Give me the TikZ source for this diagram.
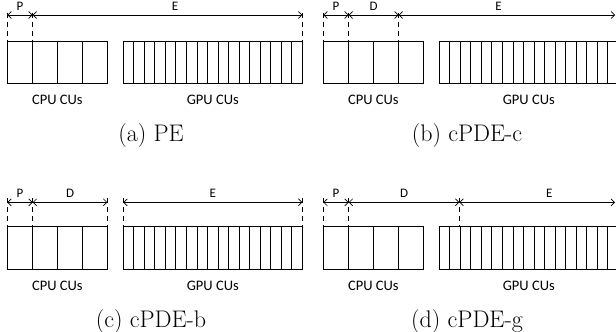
\documentclass[tikz,border=0pt]{standalone}
\usepackage{fontspec}
\usepackage{tikz}
\usetikzlibrary{arrows.meta}
\newfontfamily\cufont{Carlito}

\tikzset{
  cell/.style={draw=black, line width=1pt},
  dim/.style={{Straight Barb[length=3.5pt,width=7pt]}-{Straight Barb[length=3.5pt,width=7pt]}, line width=0.7pt},
  guide/.style={line width=1.2pt, dash pattern=on 5pt off 4pt},
  part/.style={font=\cufont\fontsize{13}{15}\selectfont, inner sep=0pt, above=4.5pt},
  unit/.style={font=\cufont\fontsize{14.5}{17}\selectfont, inner sep=0pt},
  capt/.style={font=\fontsize{24}{28}\selectfont, inner sep=0pt, anchor=base}
}

\begin{document}
\begin{tikzpicture}[x=1pt,y=-1pt]
\useasboundingbox (0,0) rectangle (616,332);
\clip (0,0) rectangle (616,332);

% (a) PE
\draw[cell] (7.3,41.7) rectangle (107.3,83.3);
\foreach \x in {32.7,57.7,82.3} \draw[cell] (\x,41.7) -- (\x,83.3);
\draw[cell] (123.3,41.7) rectangle (302.3,83.3);
\foreach \i in {1,...,16} \draw[cell] ({123.3+\i*10.53},41.7) -- ++(0,41.6);
\coordinate (a0) at (7.3,15);
\coordinate (a1) at (32.7,15);
\coordinate (a2) at (302.3,15);
\foreach \c in {a0,a1,a2} \draw[guide] (\c) ++(0,-2.3) -- ++(0,29);
\draw[dim] (a0) -- node[part] {P} (a1);
\draw[dim] (a1) -- node[part, pos=0.528] {E} (a2);
\node[unit] (acpu) at (57.3,100) {CPU CUs};
\node[unit] (agpu) at (212.8,100) {GPU CUs};
\node[capt] (acap) at (151,141) {(a) PE};

% (b) cPDE-c
\draw[cell] (323.3,41.7) rectangle (423.3,83.3);
\foreach \x in {348.7,373.7,398.3} \draw[cell] (\x,41.7) -- (\x,83.3);
\draw[cell] (439.3,41.7) rectangle (618.3,83.3);
\foreach \i in {1,...,16} \draw[cell] ({439.3+\i*10.53},41.7) -- ++(0,41.6);
\coordinate (b0) at (323.3,15);
\coordinate (b1) at (348.7,15);
\coordinate (b2) at (398.7,15);
\coordinate (b3) at (615,15);
\foreach \c in {b0,b1,b2} \draw[guide] (\c) ++(0,-2.3) -- ++(0,29);
\draw[dim] (b0) -- node[part] {P} (b1);
\draw[dim] (b1) -- node[part] {D} (b2);
\draw[dim] (b2) -- node[part, pos=0.462] {E} (b3);
\node[unit] (bcpu) at (373.3,100) {CPU CUs};
\node[unit] (bgpu) at (528.8,100) {GPU CUs};
\node[capt] (bcap) at (467,141) {(b) cPDE-c};

% (c) cPDE-b
\draw[cell] (7.3,226.7) rectangle (107.3,269);
\foreach \x in {32.7,57.7,82.3} \draw[cell] (\x,226.7) -- (\x,269);
\draw[cell] (123.3,226.7) rectangle (302.3,269);
\foreach \i in {1,...,16} \draw[cell] ({123.3+\i*10.53},226.7) -- ++(0,42.3);
\coordinate (c0) at (7.3,202.3);
\coordinate (c1) at (32.7,202.3);
\coordinate (c2) at (107.3,202.3);
\coordinate (c3) at (123.3,202.3);
\coordinate (c4) at (302.3,202.3);
\foreach \c in {c0,c1,c2,c3,c4} \draw[guide] (\c) ++(0,-4) -- ++(0,28.4);
\draw[dim] (c0) -- node[part] {P} (c1);
\draw[dim] (c1) -- node[part] {D} (c2);
\draw[dim] (c3) -- node[part] {E} (c4);
\node[unit] (ccpu) at (57.3,286) {CPU CUs};
\node[unit] (cgpu) at (212.8,286) {GPU CUs};
\node[capt] (ccap) at (151,327) {(c) cPDE-b};

% (d) cPDE-g
\draw[cell] (323.3,226.7) rectangle (423.3,269);
\foreach \x in {348.7,373.7,398.3} \draw[cell] (\x,226.7) -- (\x,269);
\draw[cell] (439.3,226.7) rectangle (618.3,269);
\foreach \i in {1,...,16} \draw[cell] ({439.3+\i*10.53},226.7) -- ++(0,42.3);
\coordinate (d0) at (323.3,202.3);
\coordinate (d1) at (348.7,202.3);
\coordinate (d2) at (459.4,202.3);
\coordinate (d3) at (615,202.3);
\foreach \c in {d0,d1,d2} \draw[guide] (\c) ++(0,-4) -- ++(0,28.4);
\draw[dim] (d0) -- node[part] {P} (d1);
\draw[dim] (d1) -- node[part] {D} (d2);
\draw[dim] (d2) -- node[part, pos=0.578] {E} (d3);
\node[unit] (dcpu) at (373.3,286) {CPU CUs};
\node[unit] (dgpu) at (528.8,286) {GPU CUs};
\node[capt] (dcap) at (467,327) {(d) cPDE-g};
\end{tikzpicture}
\end{document}
